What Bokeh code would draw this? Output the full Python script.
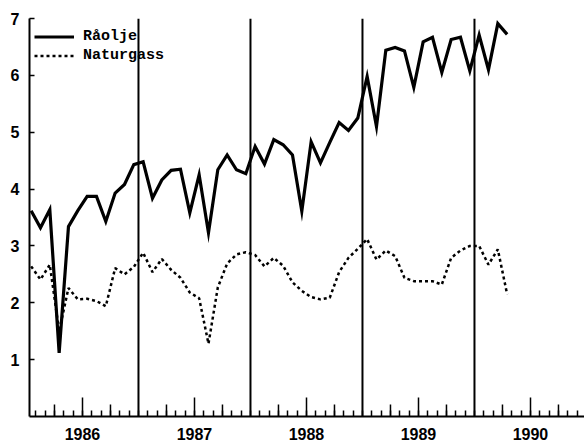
from bokeh.plotting import figure
from bokeh.models import FixedTicker, Span, Legend, LegendItem, Range1d, ColumnDataSource
from bokeh.embed import file_html
from bokeh.resources import INLINE

# ---- data (monthly, Jan 1986 - Apr 1990) ----
start_year = 1986
years = [1986, 1987, 1988, 1989, 1990]
year_labels = ["1986", "1987", "1988", "1989", "1990"]
y_ticks = [1, 2, 3, 4, 5, 6, 7]

raaolje = [
    3.62, 3.32, 3.64, 1.12, 3.34, 3.62, 3.87, 3.87, 3.43, 3.93, 4.08, 4.43,   # 1986
    4.48, 3.84, 4.16, 4.33, 4.35, 3.58, 4.25, 3.23, 4.34, 4.60, 4.34, 4.27,   # 1987
    4.75, 4.44, 4.87, 4.78, 4.60, 3.61, 4.83, 4.46, 4.82, 5.17, 5.03, 5.25,   # 1988
    5.98, 5.10, 6.44, 6.49, 6.43, 5.79, 6.59, 6.67, 6.05, 6.63, 6.67, 6.08,   # 1989
    6.71, 6.10, 6.91, 6.72,                                                   # 1990
]
naturgass = [
    2.64, 2.41, 2.67, 1.50, 2.26, 2.06, 2.07, 2.03, 1.94, 2.61, 2.50, 2.63,   # 1986
    2.88, 2.54, 2.77, 2.58, 2.44, 2.18, 2.08, 1.28, 2.27, 2.69, 2.85, 2.89,   # 1987
    2.84, 2.64, 2.79, 2.65, 2.36, 2.21, 2.10, 2.06, 2.09, 2.54, 2.79, 2.95,   # 1988
    3.12, 2.76, 2.92, 2.82, 2.44, 2.38, 2.38, 2.38, 2.32, 2.79, 2.92, 3.00,   # 1989
    3.00, 2.67, 2.94, 2.15,                                                   # 1990
]

x = [start_year + (i + 0.5) / 12 for i in range(len(raaolje))]
src = ColumnDataSource(dict(x=x, r=raaolje, n=naturgass))

W, H = 584, 442
BORDER_L, BORDER_T, BORDER_B = 29, 18, 25
PX_PER_YEAR = 112.0
p = figure(width=W, height=H, output_backend="svg", toolbar_location=None,
           x_range=Range1d(1986.027, 1986.027 + (W - BORDER_L) / PX_PER_YEAR),
           y_range=Range1d(0, 7),
           min_border_left=BORDER_L, min_border_right=0,
           min_border_top=BORDER_T, min_border_bottom=BORDER_B)
p.outline_line_color = None
p.xgrid.visible = False
p.ygrid.visible = False
p.background_fill_color = "white"
p.border_fill_color = "white"

label_font = "Liberation Sans"

# x axis
month_ticks = [yr + m / 12 for yr in years for m in range(12)]
p.xaxis.ticker = FixedTicker(ticks=[yr + 0.5 for yr in years], minor_ticks=month_ticks)
p.xaxis.major_label_overrides = {yr + 0.5: lab for yr, lab in zip(years, year_labels)}
p.xaxis.major_tick_in = 19
p.xaxis.major_tick_out = 0
p.xaxis.minor_tick_in = 6
p.xaxis.minor_tick_out = 0
p.xaxis.axis_line_width = 2
p.xaxis.major_tick_line_width = 1.5
p.xaxis.minor_tick_line_width = 1.5
p.xaxis.major_label_standoff = 11
p.xaxis.major_label_text_font = label_font
p.xaxis.major_label_text_font_style = "bold"
p.xaxis.major_label_text_font_size = "16px"
p.xaxis.major_label_text_color = "black"

# y axis
p.yaxis.ticker = FixedTicker(ticks=y_ticks)
p.yaxis.major_tick_in = 5
p.yaxis.major_tick_out = 0
p.yaxis.minor_tick_line_color = None
p.yaxis.axis_line_width = 2
p.yaxis.major_tick_line_width = 1.5
p.yaxis.major_label_standoff = 10
p.yaxis.major_label_text_font = label_font
p.yaxis.major_label_text_font_style = "bold"
p.yaxis.major_label_text_font_size = "16px"
p.yaxis.major_label_text_color = "black"

# quarter ticks (Apr, Oct) of medium length
frame_h = H - BORDER_T - 28
q_len = 12 / (frame_h / 7.0)
q_x = [yr + q for yr in years for q in (0.25, 0.75)]
p.segment(x0=q_x, y0=[0] * len(q_x), x1=q_x, y1=[q_len] * len(q_x),
          line_color="black", line_width=1.5)

# year separators
for yr in years[1:]:
    p.add_layout(Span(location=yr, dimension="height", line_color="black", line_width=2))

r1 = p.line("x", "r", source=src, line_color="black", line_width=3.2, line_join="miter")
r2 = p.line("x", "n", source=src, line_color="black", line_width=2.5, line_dash="3 3")

legend = Legend(items=[LegendItem(label="Råolje", renderers=[r1]),
                       LegendItem(label="Naturgass", renderers=[r2])],
                location=(5, frame_h - 7 - 38), margin=0, padding=0, spacing=0,
                glyph_width=40, glyph_height=19, label_height=19, label_standoff=9,
                border_line_color=None, background_fill_alpha=0,
                label_text_font="Liberation Mono", label_text_font_style="bold",
                label_text_font_size="15px", label_text_color="black")
p.add_layout(legend)

open("out.html", "w").write(file_html(p, INLINE))
